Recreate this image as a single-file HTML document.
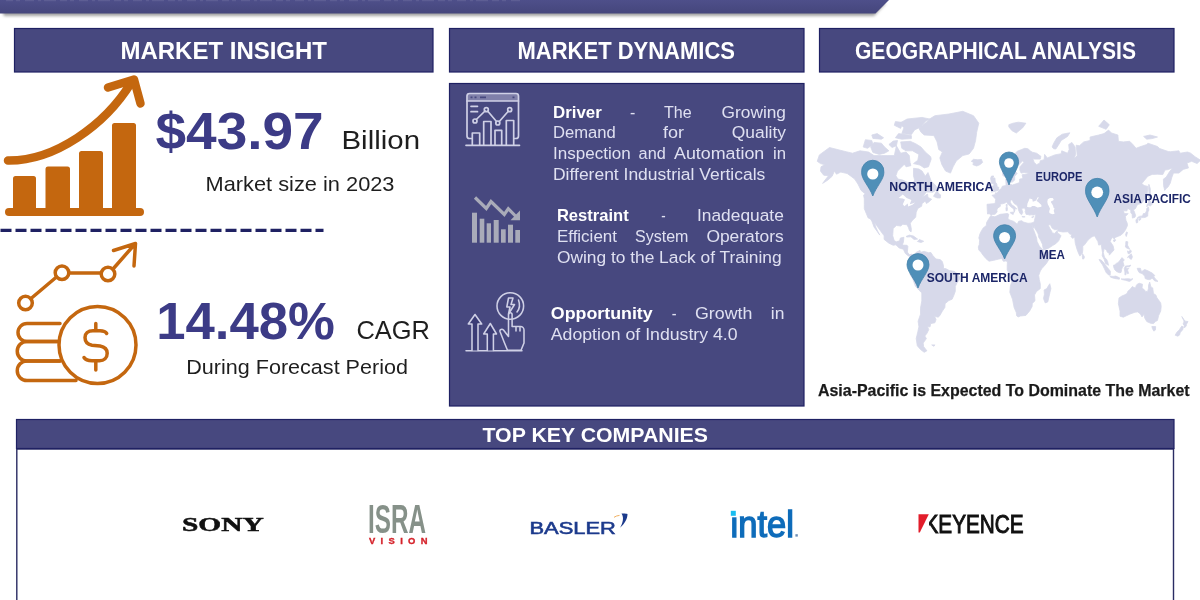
<!DOCTYPE html>
<html lang="en">
<head>
<meta charset="utf-8">
<title>Machine Vision Market Infographic</title>
<style>
  html, body { margin:0; padding:0; background:#fff; }
  body { width:1200px; height:600px; overflow:hidden; font-family:"Liberation Sans", sans-serif; }
  #page { position:relative; width:1200px; height:600px; overflow:hidden; background:#fff; }
  .abs { position:absolute; display:block; overflow:hidden; }
  text { white-space:pre; }
</style>
</head>
<body>
<div id="page">
<header>
<svg class="abs" viewBox="0 0 1200 24" style="left:0;top:0;width:1200px;height:24px">
  <defs><filter id="sh" x="-5%" y="-50%" width="110%" height="250%"><feGaussianBlur stdDeviation="1.6"/></filter></defs>
  <polygon points="0,3 886,3 874,16 4,16" fill="#555" opacity=".55" filter="url(#sh)"/>
  <defs><linearGradient id="tg" x1="0" y1="0" x2="0" y2="1"><stop offset="0" stop-color="#4e4f8a"/><stop offset="1" stop-color="#45467c"/></linearGradient></defs>
  <polygon points="0,0 889,0 875.5,13.5 0,13.5" fill="url(#tg)"/>
  <line x1="6" y1="0.5" x2="520" y2="0.5" stroke="#fff" stroke-opacity=".09" stroke-width="1.4" stroke-dasharray="7 3 4 5 9 4 3 3 12 4"/>
</svg></header>
<section class="market-insight"><svg class="abs" viewBox="0 20 441 395" style="left:0;top:20px;width:441px;height:395px"><rect x="14.5" y="28.5" width="418.5" height="43.5" fill="#47487f" stroke="#1f2163" stroke-width="1.2"/>
<text x="120.5" y="59.2" font-family='"Liberation Sans", sans-serif' font-size="23" font-weight="700" fill="#fff" textLength="206.5" lengthAdjust="spacingAndGlyphs">MARKET INSIGHT</text>
<g fill="#c4670f"><rect x="5" y="208" width="139" height="8" rx="4"/><path d="M13 208V178.5a2.5 2.5 0 0 1 2.5-2.5h18a2.5 2.5 0 0 1 2.5 2.5V208Z"/><path d="M45.5 208V169a2.5 2.5 0 0 1 2.5-2.5h19.5a2.5 2.5 0 0 1 2.5 2.5V208Z"/><path d="M79 208V153.5a2.5 2.5 0 0 1 2.5-2.5h19a2.5 2.5 0 0 1 2.5 2.5V208Z"/><path d="M112 208V125.5a2.5 2.5 0 0 1 2.5-2.5h19a2.5 2.5 0 0 1 2.5 2.5V208Z"/></g>
<g fill="none" stroke="#c4670f" stroke-width="8.5" stroke-linecap="round" stroke-linejoin="round"><path d="M8 160.5C55 161 105 125 131 83"/><path d="M108 87.5L134 79.5L140.5 103.5"/></g>
<text x="155.5" y="148.7" font-family='"Liberation Sans", sans-serif' font-size="52.5" font-weight="700" fill="#3c3b86" textLength="168.2" lengthAdjust="spacingAndGlyphs">$43.97</text>
<text x="341.5" y="148.7" font-family='"Liberation Sans", sans-serif' font-size="26.5" font-weight="400" fill="#1e1e1e" textLength="78.5" lengthAdjust="spacingAndGlyphs">Billion</text>
<text x="205.5" y="191.2" font-family='"Liberation Sans", sans-serif' font-size="21" font-weight="400" fill="#1e1e1e" textLength="189" lengthAdjust="spacingAndGlyphs">Market size in 2023</text>
<line x1="0.5" y1="230.4" x2="323.5" y2="230.4" stroke="#1f2163" stroke-width="3.2" stroke-dasharray="11 4"/>
<g fill="none" stroke="#c4670f" stroke-width="3.5" stroke-linecap="round" stroke-linejoin="round"><path d="M60 323.5H27a9 9 0 0 0 0 18H58"/><path d="M58 341.5H27a9.75 9.75 0 0 0 0 19.5H60"/><path d="M60 361H27a9.75 9.75 0 0 0 0 19.5H76"/><circle cx="97.5" cy="345" r="38.5"/><path d="M106.7 333.5C105.5 331.5 103 330.8 100 330.8H93C88 330.8 85 333.5 85 337.5C85 342 88 344.5 92 345.2L100 346C104.5 346.8 107.2 349 107.2 353.2C107.2 358 104 360.7 99.5 360.7H92C88 360.7 85.2 359.5 84 357.5"/><path d="M95.8 323.5V330M95.8 361.5V370"/><circle cx="25.5" cy="303" r="6.8"/><circle cx="62" cy="272.7" r="6.8"/><circle cx="108" cy="274" r="6.8"/><path d="M31 298.5L56.5 277M69 273H101M113 269L135 244M113.5 250.5L135.5 243.5L134 266"/></g>
<text x="156.2" y="338.7" font-family='"Liberation Sans", sans-serif' font-size="52.5" font-weight="700" fill="#3c3b86" textLength="178.8" lengthAdjust="spacingAndGlyphs">14.48%</text>
<text x="356.5" y="338.7" font-family='"Liberation Sans", sans-serif' font-size="26.5" font-weight="400" fill="#1e1e1e" textLength="73.5" lengthAdjust="spacingAndGlyphs">CAGR</text>
<text x="186.2" y="373.7" font-family='"Liberation Sans", sans-serif' font-size="20.5" font-weight="400" fill="#1e1e1e" textLength="221.8" lengthAdjust="spacingAndGlyphs">During Forecast Period</text></svg></section>
<section class="market-dynamics"><svg class="abs" viewBox="441 20 371 395" style="left:441px;top:20px;width:371px;height:395px"><rect x="449.5" y="28.5" width="354.5" height="43.5" fill="#47487f" stroke="#1f2163" stroke-width="1.2"/>
<text x="517.5" y="59" font-family='"Liberation Sans", sans-serif' font-size="23" font-weight="700" fill="#fff" textLength="217.5" lengthAdjust="spacingAndGlyphs">MARKET DYNAMICS</text>
<rect x="449.5" y="83.5" width="354.5" height="322.5" fill="#47487f" stroke="#1f2163" stroke-width="1.2"/>
<rect x="467.5" y="94" width="50.5" height="7" fill="#cfd0e6" opacity=".42"/>
<g fill="none" stroke="#cfd0e6" stroke-width="1.7" stroke-linejoin="round" stroke-linecap="round"><path d="M471.5 138.5H469.5a2.5 2.5 0 0 1-2.5-2.5V96a2.5 2.5 0 0 1 2.5-2.5h46.5a2.5 2.5 0 0 1 2.5 2.5V136a2.5 2.5 0 0 1-2.5 2.5H514.5"/><path d="M467 101H518.5M466 145.3H519.5"/><path d="M472.3 145V133H479.7V145M483.7 145V121.5H491V145M495 145V130.3H501.7V145M506.3 145V120.5H513.7V145"/><path d="M476.3 119.5L485 111M488 111.5L496.5 121.5M499.3 121.5L508.3 111.3"/><circle cx="475" cy="121" r="2"/><circle cx="486.3" cy="109.7" r="2"/><circle cx="497.8" cy="123" r="2"/><circle cx="509.7" cy="109.7" r="2"/><path d="M471 106.3H477.5M471 111.7H477.5"/></g><path d="M470.5 97.4H472.5M474.5 97.4H476.5M480 97.4H486M512.5 97.4H514.5" stroke="#47487f" stroke-width="1.8" fill="none"/>
<g fill="#a9abb9"><rect x="472" y="212.7" width="5" height="30"/><rect x="479.7" y="218.7" width="4.6" height="24"/><rect x="486.7" y="223.3" width="4.3" height="19.4"/><rect x="493.7" y="220" width="5" height="22.7"/><rect x="501" y="229.3" width="4.7" height="13.4"/><rect x="508" y="224.7" width="5" height="18"/><rect x="515.3" y="230" width="4.7" height="12.7"/><polygon points="520,210.5 520,220.3 510.5,220.3"/></g><path d="M475 197.5L486.3 208.5L491 201.5L504.3 214.5L508.3 208.7L517 217.5" fill="none" stroke="#a9abb9" stroke-width="3.2" stroke-linejoin="miter"/>
<g fill="none" stroke="#cfd0e6" stroke-width="1.55" stroke-linejoin="round" stroke-linecap="round"><path d="M466 350.7H522"/><path d="M472 350.5V324H468.3L475 314.5L481.7 324H478V350.5" fill="#3b3c76"/><path d="M487.3 350.5V334H483.7L490.3 323.5L496.5 334H493.4V350.5" fill="#3b3c76"/><circle cx="510.3" cy="306" r="13.3"/><path d="M508.5 298H513L511 304.5H514.5L508.5 314L510 307H506.8Z"/><path d="M518.5 300C520 304 519.5 309 517 312"/><path d="M508.5 328V314.5a1.8 1.8 0 0 1 3.6 0V326.5H520.5a3.5 3.5 0 0 1 3.5 3.5V343L521 350.3H507.5L504.5 343L500 331.5C499.5 329.5 502 328.5 503.5 330L508.5 336.5V328"/><path d="M516 327V331M520 327.5V331"/></g>
<text font-family='"Liberation Sans", sans-serif' font-size="16.7" font-weight="400" fill="#dfe0f1"><tspan x="553" y="117.8" textLength="48.8" lengthAdjust="spacingAndGlyphs" font-weight="700" fill="#fff">Driver</tspan> <tspan x="630" y="117.8" textLength="5.3" lengthAdjust="spacingAndGlyphs">-</tspan> <tspan x="664" y="117.8" textLength="27.7" lengthAdjust="spacingAndGlyphs">The</tspan> <tspan x="721.6" y="117.8" textLength="64.4" lengthAdjust="spacingAndGlyphs">Growing</tspan> <tspan x="553" y="137.9" textLength="62.8" lengthAdjust="spacingAndGlyphs">Demand</tspan> <tspan x="663" y="137.9" textLength="21" lengthAdjust="spacingAndGlyphs">for</tspan> <tspan x="731.8" y="137.9" textLength="54.2" lengthAdjust="spacingAndGlyphs">Quality</tspan> <tspan x="553" y="158.9" textLength="77.6" lengthAdjust="spacingAndGlyphs">Inspection</tspan> <tspan x="638.6" y="158.9" textLength="27.1" lengthAdjust="spacingAndGlyphs">and</tspan> <tspan x="674" y="158.9" textLength="90.3" lengthAdjust="spacingAndGlyphs">Automation</tspan> <tspan x="773" y="158.9" textLength="13" lengthAdjust="spacingAndGlyphs">in</tspan> <tspan x="553" y="179.5" textLength="212.3" lengthAdjust="spacingAndGlyphs">Different Industrial Verticals</tspan></text>
<text font-family='"Liberation Sans", sans-serif' font-size="16.7" font-weight="400" fill="#dfe0f1"><tspan x="556.9" y="221" textLength="71.9" lengthAdjust="spacingAndGlyphs" font-weight="700" fill="#fff">Restraint</tspan> <tspan x="661.3" y="221" textLength="4.4" lengthAdjust="spacingAndGlyphs">-</tspan> <tspan x="697" y="221" textLength="86.8" lengthAdjust="spacingAndGlyphs">Inadequate</tspan> <tspan x="556.9" y="242.2" textLength="60.1" lengthAdjust="spacingAndGlyphs">Efficient</tspan> <tspan x="635" y="242.2" textLength="53.4" lengthAdjust="spacingAndGlyphs">System</tspan> <tspan x="706.4" y="242.2" textLength="77.4" lengthAdjust="spacingAndGlyphs">Operators</tspan> <tspan x="556.9" y="263.3" textLength="224.7" lengthAdjust="spacingAndGlyphs">Owing to the Lack of Training</tspan></text>
<text font-family='"Liberation Sans", sans-serif' font-size="16.7" font-weight="400" fill="#dfe0f1"><tspan x="550.8" y="319.2" textLength="101.9" lengthAdjust="spacingAndGlyphs" font-weight="700" fill="#fff">Opportunity</tspan> <tspan x="671.7" y="319.2" textLength="4.8" lengthAdjust="spacingAndGlyphs">-</tspan> <tspan x="695" y="319.2" textLength="57.3" lengthAdjust="spacingAndGlyphs">Growth</tspan> <tspan x="770.8" y="319.2" textLength="13.6" lengthAdjust="spacingAndGlyphs">in</tspan> <tspan x="550.8" y="340.3" textLength="186.8" lengthAdjust="spacingAndGlyphs">Adoption of Industry 4.0</tspan></text></svg></section>
<section class="geographical-analysis"><svg class="abs" viewBox="812 20 388 395" style="left:812px;top:20px;width:388px;height:395px"><rect x="819.5" y="28.5" width="354.5" height="43.5" fill="#47487f" stroke="#1f2163" stroke-width="1.2"/>
<text x="855" y="59" font-family='"Liberation Sans", sans-serif' font-size="23" font-weight="700" fill="#fff" textLength="281" lengthAdjust="spacingAndGlyphs">GEOGRAPHICAL ANALYSIS</text>
<defs><filter id="mb"><feGaussianBlur stdDeviation="0.7"/></filter></defs>
<g filter="url(#mb)"><path d="M817.2 161.3 L819.4 154.9 L829.5 147.5 L846.1 151.7 L852.5 153.2 L860 150.8 L868.6 152 L874 155.6 L881.4 155.6 L887.9 155.6 L894.3 155.6 L896.4 145.8 L900.7 153.2 L906 152 L909.3 155.6 L910.3 164.7 L903.9 164.7 L897.5 171.1 L895.9 175.8 L898 179.1 L902.8 180.1 L908.7 183 L909.3 187.7 L911.4 190.1 L912.5 184.9 L914.6 180.1 L913.5 175.8 L913.5 168.3 L918.9 169 L922.1 171.1 L925.3 176.2 L928 172.5 L931.2 181.1 L936 185.8 L937.1 189.5 L932.8 192.2 L926.4 191.9 L922.1 197.5 L927.5 194 L928 197.5 L931.7 199.2 L929.1 201.8 L926.4 203.5 L925.3 201 L922.1 203.5 L921.6 206.3 L917.8 208.4 L916.2 212.4 L915.7 217.2 L912.5 220.2 L910.3 223.3 L911.4 229.3 L911.1 231.9 L909.5 230.7 L908.5 227.8 L907.1 224.8 L902.8 224.3 L900.7 226 L896.4 225.5 L893.2 228.5 L892.7 235.8 L894.3 240.8 L896.4 241.8 L899.6 240.8 L900.4 238 L903.9 237.3 L903.4 242.2 L902.3 245.1 L907.1 245.3 L907.9 246.5 L907.4 252.1 L909.3 254.8 L911.9 254.1 L914.1 255.5 L913.5 257.3 L911.4 257.2 L908.2 255.8 L905.3 253.4 L903.4 249.3 L899.1 247.9 L895.9 244.8 L893.2 245.3 L888.9 243.2 L884.1 239.4 L884.1 235.8 L880.4 230.7 L876.6 225.5 L874.3 222.5 L876.1 227.8 L878.2 232.2 L879.8 235.1 L877.2 231.5 L874 227 L871.8 221 L870.2 218.7 L868.1 217.9 L866.5 214 L864.3 208.7 L864.3 204.3 L864.3 198.9 L863.6 195.1 L865.4 194 L861.1 190.4 L857.9 184 L854.7 179.1 L850.9 176.2 L847.2 173.5 L840.8 172.1 L836.5 174.2 L834.4 171.1 L832.2 176.2 L827.9 180.1 L822.6 183.4 L825.8 179.1 L828.5 175.8 L823.7 175.2 L820.5 171.1 L821 166.8 L824.7 164.7 L820.5 163.6Z M931.2 159.1 L928.5 166.8 L924.2 167.9 L920 165.1 L913.5 163.6 L917.8 160.2 L918.9 154.4 L912.5 150.8 L906 150.8 L901.8 148.3 L900.7 141.9 L910.3 141.3 L915.7 143.7 L921 147 L925.3 152 L930.7 156.7Z M884.6 153.2 L879.3 154.4 L872.9 152.5 L870.7 147 L874 142.4 L881.4 143.2 L884.6 147 L888.9 150.8Z M863.2 147 L865.4 139.7 L871.8 140.5 L872.9 144.5 L867.5 148.3Z M929.6 119 L922.1 117.4 L907.1 119 L899.6 123.2 L903.9 127.8 L901.8 133.6 L911.4 134.5 L914.6 129.9 L918.9 127.8 L926.4 122.2Z M911.4 135.6 L898.6 133.6 L895.4 137.8 L901.8 139.2 L911.4 138.6Z M883.6 137.8 L877.2 133.6 L871.8 135 L872.9 138.4 L881.4 139.2Z M902.8 122.5 L895.4 121.6 L894.3 125.3 L900.7 128.4Z M897.5 140.5 L893.2 141.1 L888.9 144.5 L892.1 147.5 L896.4 145.8Z M910.9 165.7 L906 166.8 L903.9 162.4 L907.1 160.2 L910.3 163.6Z M937.6 189.5 L933.5 196.3 L937.1 197.9 L940.3 198 L940.6 194.9 L938.1 193.1Z M906 236.5 L909.3 235.1 L913.5 236.1 L917.6 239.1 L914.1 239.5 L910.9 236.8 L907.1 237Z M917.4 241.5 L919.4 239.5 L923.7 241.3 L921 242.5Z M918.9 128.4 L925.3 121.6 L934.9 115.7 L948.9 114 L962.8 111.3 L973.5 115.7 L978.8 123.2 L976.7 132.2 L975.6 140.5 L973.5 148.3 L969.2 153.9 L962.8 155.6 L956.3 160.9 L953.1 166.8 L950.5 173.1 L945.6 171.1 L941.9 164.7 L939.8 157.9 L942.4 152 L938.7 149.5 L937.1 141.9 L933.9 135.6 L924.2 135 L921 132.2Z M971.3 161.3 L973.5 159.3 L977.7 159.7 L981.5 159.5 L982.6 162.4 L979.9 164.7 L976.7 166 L972.9 164.7 L973.5 162.4Z M914.1 255.5 L916.2 252.3 L920 250.4 L920.5 252.3 L924.2 251.4 L928.5 252.7 L930.9 252.5 L932.8 255.5 L936 259 L940.3 259.6 L942.4 261.7 L943.5 265.8 L943.5 268.6 L945.6 268.6 L949.4 270.6 L954.2 271.3 L957.4 273.8 L959.5 276.8 L959.5 279.6 L956.9 283 L955.3 286.5 L955.3 291.4 L953.7 295.7 L952.1 299.3 L948.9 300.5 L945.1 303.7 L944.9 307.4 L942.4 311.1 L939.8 315.7 L938.1 317.2 L935.5 316.5 L934.4 315.7 L936 319.6 L934.9 322.8 L930.7 323.6 L930.1 326.8 L927.5 326.8 L928.8 329.6 L926.9 333.4 L924.8 336 L926.4 338.6 L923.2 343.1 L923.7 346.7 L926.9 350.8 L924.2 352.3 L920.5 349.5 L917.3 345.8 L916.2 338.6 L917.8 331.8 L918.9 326.8 L918.1 321.2 L920.5 314.2 L920.5 308.1 L921.8 300.8 L921.8 292.9 L918.9 290 L915.4 286.2 L913 279.6 L910 274.1 L911.4 271.3 L910.3 268.6 L911.4 265.8 L913 263.8 L914.1 261.7 L914.1 257.6Z M990.6 215.9 L994.9 216.8 L1000.2 214.3 L1007.5 213.5 L1008.8 214.3 L1007.9 218.2 L1009.3 219.9 L1013.6 221.3 L1017.3 224.3 L1018.6 221.3 L1021.6 220.7 L1023.8 222.2 L1028 223.3 L1031.8 223 L1033.6 222.8 L1031.8 225.1 L1033.4 229.3 L1035 233.6 L1036.6 238 L1037.1 241.5 L1039.3 246 L1043 250 L1043.3 251.4 L1045.2 252.7 L1051.9 250.9 L1051.4 254.8 L1048.4 260.3 L1046.2 263.8 L1041.9 268.6 L1040.3 271 L1038.7 275.4 L1039.3 279.6 L1040.3 283.7 L1040.3 288.6 L1036.6 291.4 L1034.5 295 L1035 300.8 L1032.3 303.4 L1032.1 306.6 L1029.6 311.1 L1025.9 315.4 L1020.5 316 L1018.2 316.9 L1016.6 315.7 L1016.3 312.6 L1014.1 307.4 L1012.5 299.3 L1009.8 292.2 L1010.4 285.8 L1011.7 282.3 L1010.1 275.4 L1007.2 269.9 L1007.2 265.8 L1007.4 262 L1006.1 260.9 L1003.4 261.3 L1001.6 258.5 L998.1 259.2 L993.8 260.3 L989 261.2 L985.8 258.5 L983.1 255.2 L981 252.3 L978.8 250 L978.3 246.9 L979.3 244.4 L979.6 240.1 L978.8 238 L979.9 233.9 L981.5 230.7 L983.1 228.1 L986.3 225.5 L986.6 222.5 L988.4 219.5Z M1049.8 283.7 L1050.9 288.6 L1050 292.2 L1047.8 301.9 L1045.2 302.9 L1043.5 298.6 L1044.4 294.3 L1044.1 290 L1046.8 288.6 L1048.4 285.8Z M987.4 211.6 L987 204.3 L995.1 203.6 L995.7 199.2 L992 195.3 L995.4 194.6 L995.2 192.8 L997.2 193.1 L998.8 190.4 L1001.3 188.6 L1002.4 186.2 L1006.1 185.5 L1005.9 182.1 L1005.8 179.1 L1008.2 177.8 L1008.2 182.1 L1010.4 184.3 L1012.2 185.1 L1016.8 183.6 L1019.5 182.6 L1019.7 179.1 L1023 178.6 L1022.1 174.8 L1027 173.9 L1029.1 173.1 L1024.3 172.5 L1021.1 173.1 L1019.8 170 L1020 166.8 L1023.8 162.4 L1022.7 160.7 L1020 163.6 L1015.7 168.3 L1015.4 171.5 L1017.1 173.5 L1014.7 176.2 L1014.7 180.1 L1012.3 182.1 L1010.7 182.1 L1009.1 176.2 L1008.2 174.2 L1005.6 177 L1002.9 175.6 L1002.4 170 L1004.5 166.8 L1008.2 164 L1010.9 159.5 L1013.6 154.9 L1017.3 151.3 L1021.6 149.5 L1024.8 148.3 L1028 148.8 L1030.2 150.8 L1032.3 152.2 L1036.6 153.2 L1040.9 156.3 L1040.3 159.1 L1034.5 159.1 L1032.8 158.4 L1034.2 162.4 L1036.6 164.7 L1039.8 163.1 L1040.3 160.7 L1044.1 159.7 L1044.6 154.4 L1047.3 157.9 L1054.8 154.9 L1061.2 153.7 L1061.7 150.8 L1067.6 153.2 L1069.2 149.5 L1068.7 144.5 L1071.9 142.4 L1075.1 147 L1075.6 154.4 L1074 159.1 L1077.2 155.6 L1076.2 145.2 L1079.4 145.8 L1083.7 141.9 L1090.1 140.5 L1090.1 137 L1098.7 135 L1104 133.6 L1108.6 130.1 L1111.5 133 L1117.9 135 L1118.4 141.3 L1123.3 141.9 L1129.7 141.3 L1132.9 144.5 L1136.1 148.3 L1139.3 147 L1146.8 144.5 L1147.9 143.2 L1157.5 146.5 L1159.6 148.5 L1168.2 151.5 L1170.3 151.7 L1178.9 150.8 L1180 153.2 L1187.5 152 L1190.7 153.2 L1195 156.7 L1200.6 160.2 L1197.1 163.6 L1191.7 161.3 L1186.9 163.1 L1188.5 167.9 L1183.2 169.4 L1178.9 173.1 L1173.5 173.1 L1171.9 177.2 L1170.3 183 L1168.2 186.8 L1166.1 188.6 L1164.7 190.4 L1163.6 185.8 L1163.4 179.1 L1166.1 177.2 L1169.3 172.1 L1172.5 167.9 L1168.2 169.6 L1165 170 L1162.8 174.6 L1157.5 174.2 L1152.2 174.4 L1147.9 176.2 L1144.7 180.1 L1141.8 183.6 L1144.1 185.5 L1147.9 186.4 L1147.3 192.2 L1147.1 195.8 L1144.7 199.2 L1141.5 203.5 L1138.2 204.3 L1136.8 205.5 L1135.6 208.4 L1133.4 210 L1134.5 212 L1135.6 215.6 L1135 217.2 L1132.4 218.1 L1132.1 214.3 L1130.8 212.8 L1130.8 210 L1127.5 208.4 L1127 210.8 L1123.3 210.8 L1124.3 213.5 L1128.1 213.7 L1125.4 216.4 L1125.9 220.2 L1127.3 223.3 L1127.5 225.5 L1125.4 230 L1123.3 232.9 L1121.1 235.1 L1118.4 236.2 L1115.2 237.5 L1114.2 239 L1112.6 237.3 L1111 239.4 L1110.2 241.5 L1113.1 245.8 L1114 250 L1111.5 252.7 L1109.3 255.2 L1109.3 253.4 L1107.2 252.1 L1106.7 250.4 L1104.9 248.8 L1104 249.3 L1103.3 252.7 L1104.5 257.2 L1106.7 259.6 L1107.7 261.7 L1108.5 265.3 L1105.4 263.4 L1104.3 259.6 L1102.2 255.8 L1102.5 252.7 L1101.6 247.2 L1101.3 244.4 L1098.7 245.1 L1097.9 241.5 L1095.4 237.3 L1094.4 235.8 L1091.7 237 L1090.1 238.3 L1088 240.1 L1085.1 244.1 L1082.8 246.5 L1082.8 250 L1082.4 253 L1079.9 256.1 L1078.6 253.4 L1077 249.3 L1075.4 243.7 L1074.9 240.1 L1074.8 237.3 L1072.4 238.3 L1070.8 236.1 L1072.2 235.1 L1069.2 233.6 L1068.2 231.7 L1063 232 L1058.3 231.2 L1057.5 229.3 L1054.8 229.8 L1052.1 228.1 L1050.5 224.8 L1048.9 224.8 L1048.4 225.5 L1050.7 230 L1051.6 230.7 L1052.1 232.9 L1054.8 233.4 L1057.2 230.4 L1057.7 233.2 L1059.8 234.4 L1061 235.8 L1059.6 238.7 L1058.7 240.8 L1055.8 243.7 L1052.6 245.6 L1049.1 247.9 L1045.2 249.5 L1043.5 249.7 L1042.7 246.5 L1042.5 244.4 L1040.5 240.1 L1038.7 237.3 L1038.2 234.1 L1036.8 231.5 L1034.5 227.8 L1034.3 225.5 L1033.7 228.1 L1031.9 224.9 L1031.6 223 L1033.7 222.8 L1034.5 220.2 L1035.5 215.9 L1035.7 214.5 L1033.4 215.1 L1031.2 214.8 L1029.6 215.1 L1028 214.5 L1026.2 214.5 L1025.1 211.6 L1025.6 210 L1025 209.2 L1024.8 207.9 L1021.6 208.4 L1022.7 212.4 L1021.6 214.8 L1019.8 213.2 L1018.4 209.7 L1017.9 206.8 L1016.8 205.1 L1014.1 203.5 L1012.5 200.6 L1011.7 199.9 L1010.2 200.4 L1010.4 202.6 L1012 205.1 L1014.1 206.3 L1016.8 208.9 L1015.2 208.4 L1014.8 210.8 L1014.1 212.4 L1013.8 209.2 L1012.3 207.9 L1010.2 206.3 L1008.2 204.3 L1006.6 202.1 L1005 203 L1002.4 203.8 L1000.2 204 L1000.4 206.3 L997.9 207.9 L996.7 210 L997.2 211.3 L996.3 213.1 L994.9 214.3 L992.2 214.5 L991 215.6 L990.3 214.3 L989.1 213.7 L987.5 214Z M991.1 192.1 L993.3 191.7 L997 190.8 L998.5 189.9 L998.8 187.3 L997.2 186.8 L996.8 184 L995.3 182.1 L994.9 178 L992.7 177.8 L993.8 176 L991.6 176 L990.6 178.2 L991.1 181.1 L991.6 183.4 L993.8 183.4 L993.8 185.8 L992.2 186.2 L992.4 188.1 L991.4 189 L993.5 189.7 L992.2 190.1Z M990.6 188.3 L990.6 184.9 L991.1 183.6 L989 182.4 L986.3 184.5 L986.8 186.4 L986 188.6 L986.8 189.5 L989 188.6Z M1137.1 218.7 L1138.2 218.2 L1141.5 217.6 L1143.6 217.6 L1145.7 217.2 L1147.7 216.1 L1147.9 212 L1148.9 210 L1148.4 207.1 L1146.8 208.3 L1146.6 210.8 L1145.2 213.5 L1143.4 213.5 L1142.5 215.9 L1139.3 216.4 L1137.2 217.9Z M1146.8 206.8 L1148.4 205.1 L1150.3 206 L1152.7 203.8 L1151.4 202.6 L1148.9 200.1 L1148.4 203.5 L1147.1 204.3Z M1136.1 219.5 L1137.9 219.2 L1137.7 222.5 L1136.4 223 L1135.9 220.5Z M1138.8 219 L1140.9 218.4 L1140.7 219.5 L1139.3 220.5Z M1148.9 184.3 L1150.3 188.6 L1150.3 193.1 L1150 198.9 L1148.9 198 L1148.9 192.2 L1148.6 187.7Z M1126.5 231.9 L1127.5 232.5 L1126.3 236.5 L1125.5 234.7Z M1113.3 240.1 L1115.2 239.4 L1115.8 240.1 L1114.2 242Z M1082.6 253.7 L1084.5 256.9 L1083.7 259 L1082.6 259 L1082.3 255.9Z M1125.9 241.5 L1127.8 241.8 L1127.5 245.1 L1129.7 249.3 L1128.1 248.6 L1126.5 247.9 L1125.4 246.9 L1125.7 244.6Z M1127.5 257.6 L1129.1 255.4 L1131.3 253.9 L1132.4 256.9 L1131.3 259.4 L1129.7 258.5 L1128.6 256.9Z M1127.5 250.9 L1128.6 251.4 L1130.8 250 L1131.3 252.1 L1129.7 253.4 L1128.1 253.7Z M1113.6 265.1 L1114.7 264.9 L1116.3 263.4 L1117.9 262.8 L1120 260.3 L1122 257.6 L1124.3 259.9 L1122.9 261.7 L1124.1 265.8 L1122.7 266.5 L1121.7 269.3 L1121.1 272.4 L1119.5 272.7 L1116.8 271.7 L1114.7 269.7 L1113.6 266.8Z M1099 259.5 L1101.3 260.1 L1104.3 263.4 L1107.7 267.9 L1110.4 271.3 L1110.2 275.2 L1108.3 274.8 L1106.1 272.4 L1104.3 268.6 L1102.6 264.9 L1100.8 262.4Z M1109.7 276.1 L1113.1 276.4 L1115.8 276.1 L1119.5 277.8 L1119.3 279.2 L1114.7 278.5 L1111 277.4Z M1124.9 274.8 L1124.9 272 L1124.3 268.6 L1125.4 266.1 L1128.6 265.8 L1130.8 265.1 L1129.7 266.8 L1125.9 266.9 L1126.5 268.6 L1128.9 268.4 L1127.5 269.9 L1128.6 273.4 L1127.5 273.8 L1126.5 271.3 L1125.9 274.8Z M1137.2 268.3 L1140.4 268.3 L1141.5 271.7 L1144.7 269.5 L1147.9 270.8 L1152.2 273.1 L1154.8 275.4 L1153.8 276.8 L1155.4 278.9 L1158 281.4 L1154.8 281 L1152.2 278.2 L1150 279.6 L1147.9 279.6 L1145.2 278.6 L1144.7 276.1 L1142 273.4 L1139.3 272.7 L1138.2 271Z M1121.1 278.9 L1124.3 278.9 L1128.6 278.7 L1130.8 279.2 L1132.9 278.7 L1130.8 280.7 L1129.4 281.4 L1125.4 280.3 L1122.2 279.6Z M1119 297.9 L1118.4 303.7 L1120 311.1 L1120 316.2 L1123.3 317.2 L1126.5 315.7 L1129.7 314.2 L1135 312.2 L1137.7 311.9 L1140.4 313.9 L1142 316.9 L1144.1 314.2 L1144.7 318 L1146.8 321.6 L1150.5 323.2 L1153.5 323.6 L1155.4 321.6 L1157.5 320.4 L1158.6 315.7 L1160.7 311.1 L1161.2 306.6 L1160.7 302.9 L1158.6 300 L1157 297.9 L1155.9 295 L1153.5 293.6 L1152.7 287.9 L1150.9 286.9 L1149.7 282.1 L1148.6 285.1 L1148.4 288.6 L1147.7 291.4 L1145.7 291.4 L1143.6 289.1 L1142 287.9 L1142.5 284.2 L1139.3 283.3 L1137.2 284.2 L1136.1 285.8 L1135.6 287.9 L1134 287.6 L1132.4 286.5 L1130.2 289.3 L1127.9 291.2 L1127 293.6 L1124.3 295 L1121.9 296Z M1151.8 326.5 L1155.7 326.6 L1155.4 330.1 L1153.8 331.1 L1152.5 328.8Z M1181.8 316.5 L1183.7 319.3 L1185.3 321.2 L1188 321.5 L1186.4 324.4 L1186.2 326 L1184.6 327.8 L1184 326.8 L1184.2 325.2 L1183 324 L1184 322 L1183.7 320.4Z M1181.8 326.1 L1183.4 327.1 L1182.6 330.1 L1180.3 332.3 L1179.6 335 L1177.8 336.2 L1175.2 335.2 L1176.8 332.3 L1179.4 329.8 L1180.5 327.9Z M1008.8 124.7 L1013 123.2 L1018.4 122.2 L1025.9 123.2 L1022.7 127.8 L1016.3 133 L1012 130.7 L1008.8 126.9Z M1052.1 147 L1053.7 143.2 L1056.9 137.8 L1062.3 134.2 L1069.8 132.8 L1067.6 136.4 L1061.2 140.5 L1058 145.8 L1055.8 149 L1053.7 148.8Z M1098.7 126.3 L1104 120 L1109.3 124.7 L1106.1 129.3Z M1143.6 136.4 L1150 135 L1157.5 137 L1152.2 138.6 L1146.8 139.2Z M1010.4 212.4 L1013.6 212.1 L1013.2 214.5 L1010.6 213.2Z M1005.9 207.6 L1007.4 207.6 L1007.3 210.5 L1006.1 210.8Z M1006.2 204.6 L1007.2 204.3 L1007.1 206.8 L1006.3 206.5Z M1022.1 216.4 L1025.1 216.8 L1022.7 217.2Z M1031.6 217.2 L1033.9 216.2 L1032.8 217.8Z M931.7 344.9 L934.9 344.9 L933.9 346.3Z" fill="#d7d9ea" stroke="#d7d9ea" stroke-width="0.8" stroke-linejoin="round"/><path d="M1027 206.8 L1027.5 203.5 L1028.6 201 L1029.6 198.4 L1032.3 199.2 L1032.8 201.8 L1035 201 L1036.1 200.4 L1037.7 197.2 L1038.9 197.5 L1037.1 200.1 L1036.6 201 L1038.2 202.1 L1041.4 205.1 L1041.4 206.8 L1037.7 207.6 L1034.5 206 L1032.3 206 L1030.7 207.3 L1028.6 207.3Z M1047.3 201.8 L1047.8 199.2 L1050 198 L1052.6 197.9 L1053.7 199.2 L1053.2 200.4 L1051.6 201 L1050.8 202 L1052.1 204 L1053.2 206 L1053.4 207.6 L1054.6 208.4 L1053.7 210.4 L1054.6 213.7 L1052.6 214.3 L1051 213.7 L1049.4 213.1 L1049.2 211.2 L1050 208.7 L1048.9 206.3 L1047.8 204.3Z M898.6 197.9 L902.8 194.4 L906.6 197.9 L911.4 200.1 L909.8 204.3 L912.5 203.5 L915.1 202.6 L912.5 204.8 L908.2 206.6 L907.7 203.5 L904.4 206.3 L902.8 204.3 L905 199.6 L902.8 198.4Z" fill="#fff"/></g>
<path d="M872.8 196 C869.3 186.6 861.6 179.5 861.6 172.5 A11.2 11.2 0 1 1 883.9 172.5 C883.9 179.5 876.3 186.6 872.8 196Z" fill="#4f8fb8" stroke="#4482ab" stroke-width=".8"/><circle cx="872.8" cy="174" r="5.6" fill="#fff"/>
<path d="M1009 185 C1006 175.6 999.4 168.6 999.4 161.6 A9.6 9.6 0 1 1 1018.6 161.6 C1018.6 168.6 1012 175.6 1009 185Z" fill="#4f8fb8" stroke="#4482ab" stroke-width=".8"/><circle cx="1009" cy="163" r="4.8" fill="#fff"/>
<path d="M1097.2 217 C1093.6 206.7 1085.5 198.9 1085.5 191.2 A11.8 11.8 0 1 1 1109 191.2 C1109 198.9 1100.8 206.7 1097.2 217Z" fill="#4f8fb8" stroke="#4482ab" stroke-width=".8"/><circle cx="1097.2" cy="192.3" r="5.9" fill="#fff"/>
<path d="M1004.6 259 C1001.2 249.7 993.6 242.7 993.6 235.7 A11 11 0 1 1 1015.6 235.7 C1015.6 242.7 1008 249.7 1004.6 259Z" fill="#4f8fb8" stroke="#4482ab" stroke-width=".8"/><circle cx="1004.6" cy="237.5" r="5.5" fill="#fff"/>
<path d="M918 288 C914.6 278.6 907 271.6 907 264.6 A11 11 0 1 1 929 264.6 C929 271.6 921.4 278.6 918 288Z" fill="#4f8fb8" stroke="#4482ab" stroke-width=".8"/><circle cx="918" cy="265" r="5.5" fill="#fff"/>
<text x="889.3" y="191.3" font-family='"Liberation Sans", sans-serif' font-size="12.2" font-weight="700" fill="#1c2668" textLength="104" lengthAdjust="spacingAndGlyphs">NORTH AMERICA</text>
<text x="1035.5" y="181.3" font-family='"Liberation Sans", sans-serif' font-size="12.2" font-weight="700" fill="#1c2668" textLength="46.8" lengthAdjust="spacingAndGlyphs">EUROPE</text>
<text x="1113.5" y="202.7" font-family='"Liberation Sans", sans-serif' font-size="12.2" font-weight="700" fill="#1c2668" textLength="77.3" lengthAdjust="spacingAndGlyphs">ASIA PACIFIC</text>
<text x="1039" y="258.6" font-family='"Liberation Sans", sans-serif' font-size="12.2" font-weight="700" fill="#1c2668" textLength="25.8" lengthAdjust="spacingAndGlyphs">MEA</text>
<text x="926.8" y="281.9" font-family='"Liberation Sans", sans-serif' font-size="12.2" font-weight="700" fill="#1c2668" textLength="100.8" lengthAdjust="spacingAndGlyphs">SOUTH AMERICA</text>
<text x="818" y="396.3" font-family='"Liberation Sans", sans-serif' font-size="16.7" font-weight="700" fill="#1a1a1a" textLength="371.6" lengthAdjust="spacingAndGlyphs" stroke="#1a1a1a" stroke-width=".25">Asia-Pacific is Expected To Dominate The Market</text></svg></section>
<section class="top-key-companies"><svg class="abs" viewBox="0 415 1200 185" style="left:0;top:415px;width:1200px;height:185px"><rect x="16.8" y="449" width="1156.7" height="160" fill="#fff" stroke="#2a2c63" stroke-width="1.4"/>
<rect x="16.5" y="419.5" width="1157.5" height="29" fill="#47487f" stroke="#1f2163" stroke-width="1.2"/>
<text x="482.5" y="442" font-family='"Liberation Sans", sans-serif' font-size="19.6" font-weight="700" fill="#fff" textLength="225.5" lengthAdjust="spacingAndGlyphs">TOP KEY COMPANIES</text>
<text x="182" y="530.5" font-family='"Liberation Serif", serif' font-size="19.6" font-weight="700" fill="#111" textLength="81.7" lengthAdjust="spacingAndGlyphs" stroke="#111" stroke-width=".5">SONY</text>
<text x="368" y="532.6" font-family='"Liberation Sans", sans-serif' font-size="40" font-weight="700" fill="#869189" textLength="58" lengthAdjust="spacingAndGlyphs">ISRA</text>
<text x="369" y="544.3" font-family='"Liberation Sans", sans-serif' font-size="9.4" font-weight="700" fill="#d5232b" stroke="#d5232b" stroke-width=".35" textLength="58.5" lengthAdjust="spacing">VISION</text>
<text x="529.5" y="533.8" font-family='"Liberation Sans", sans-serif' font-size="15.7" font-weight="400" fill="#1c3a8c" textLength="86.3" lengthAdjust="spacingAndGlyphs" stroke="#1c3a8c" stroke-width=".55">BASLER</text>
<path d="M621.5 513.5C624.5 513.3 626.5 513.5 627.5 514C627.5 519 624.5 524 620 527.8C622.5 523.5 624.5 518 621.5 513.5Z" fill="#1c3a8c"/>
<path d="M614 517.3C615.5 516.2 617.5 515.6 619.5 515.4" fill="none" stroke="#f0b060" stroke-width="1"/>
<text x="730.6" y="536.6" font-family='"Liberation Sans", sans-serif' font-size="36.2" font-weight="400" fill="#0e6cba" textLength="63.2" lengthAdjust="spacingAndGlyphs" stroke="#0e6cba" stroke-width="1.4">intel</text>
<rect x="729" y="508" width="8.5" height="9.3" fill="#fff"/><rect x="730.8" y="510.8" width="5" height="5" fill="#19bdf0"/><rect x="795.4" y="534.2" width="2.4" height="2.4" fill="#6b8db5"/>
<text x="924.5" y="532.5" font-family='"Liberation Sans", sans-serif' font-size="25.6" font-weight="400" fill="#111" textLength="99.1" lengthAdjust="spacingAndGlyphs" stroke="#111" stroke-width="1">KEYENCE</text>
<rect x="915" y="512" width="14" height="22" fill="#fff"/>
<polygon points="918.5,514.2 928.8,514.2 919.8,532.5 918.5,532.5" fill="#e21d2b"/></svg></section>
</div>
</body>
</html>
